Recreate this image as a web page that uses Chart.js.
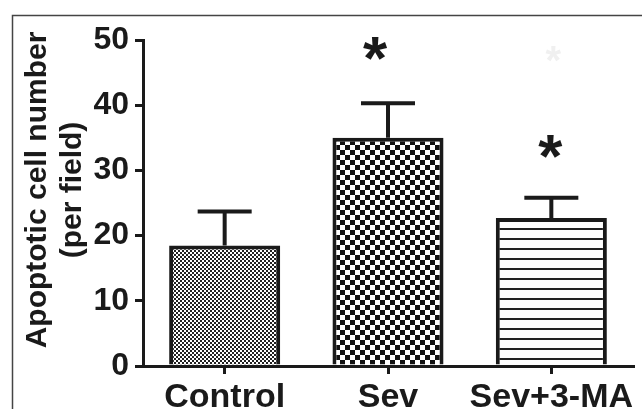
<!DOCTYPE html>
<html>
<head>
<meta charset="utf-8">
<script src="https://cdn.jsdelivr.net/npm/chart.js@4.4.0/dist/chart.umd.min.js"></script>
<style>
    html, body { margin: 0; padding: 0; background: #fff; }
    #wrap { width: 642px; height: 409px; position: relative; }
</style>
</head>
<body>
<div id="wrap"><canvas id="apoptosisChart" width="642" height="409"></canvas></div>
<script>
// data
const groups = ['Control', 'Sev', 'Sev+3-MA'];
const means = [18.5, 35.0, 22.7];
const sems = [5.2, 5.3, 3.1];
const marks = ['', '*', '*'];
const markLevels = [0, 48.9, 33.9];
const yTicks = [0, 10, 20, 30, 40, 50];

const FONT = '"Liberation Sans", Arial, sans-serif';

// fill patterns
function checker(cell, dark) {
    const c = document.createElement('canvas');
    c.width = cell * 2;
    c.height = cell * 2;
    const g = c.getContext('2d');
    g.fillStyle = '#fff';
    g.fillRect(0, 0, c.width, c.height);
    g.fillStyle = dark;
    g.fillRect(0, 0, cell, cell);
    g.fillRect(cell, cell, cell, cell);
    return g.createPattern(c, 'repeat');
}
function stripes(gap, lw) {
    const c = document.createElement('canvas');
    c.width = 8;
    c.height = gap;
    const g = c.getContext('2d');
    g.fillStyle = '#fff';
    g.fillRect(0, 0, c.width, c.height);
    g.fillStyle = '#222';
    g.fillRect(0, gap - lw, c.width, lw);
    return g.createPattern(c, 'repeat');
}
const fills = [checker(2, '#222'), checker(5, '#111'), stripes(10, 2)];

// frame, y title, error bars and asterisks
const extras = {
    id: 'extras',
    beforeDraw(chart) {
        const ctx = chart.ctx;
        ctx.save();
        ctx.fillStyle = '#fff';
        ctx.fillRect(0, 0, chart.width, chart.height);
        ctx.strokeStyle = '#444';
        ctx.lineWidth = 1.5;
        ctx.beginPath();
        ctx.moveTo(12.5, chart.height);
        ctx.lineTo(12.5, 15.5);
        ctx.lineTo(chart.width, 15.5);
        ctx.stroke();

        // y axis title, two lines
        ctx.translate(0, 190);
        ctx.rotate(-Math.PI / 2);
        ctx.fillStyle = '#1a1a1a';
        ctx.font = 'bold 30px ' + FONT;
        ctx.textAlign = 'center';
        ctx.textBaseline = 'middle';
        ctx.fillText('Apoptotic cell number', 0, 38);
        ctx.fillText('(per field)', 0, 73);
        ctx.restore();
    },
    afterDatasetsDraw(chart) {
        const ctx = chart.ctx;
        const x = chart.scales.x;
        const y = chart.scales.y;
        ctx.save();
        ctx.strokeStyle = '#1a1a1a';
        ctx.lineWidth = 4;
        means.forEach((m, i) => {
            const cx = x.getPixelForValue(i);
            const top = y.getPixelForValue(m + sems[i]);
            const base = y.getPixelForValue(m);
            ctx.beginPath();
            ctx.moveTo(cx, base);
            ctx.lineTo(cx, top);
            ctx.moveTo(cx - 27, top);
            ctx.lineTo(cx + 27, top);
            ctx.stroke();
        });

        ctx.fillStyle = '#1a1a1a';
        ctx.font = 'bold 62px ' + FONT;
        ctx.textAlign = 'center';
        ctx.textBaseline = 'alphabetic';
        const starDx = [0, -13, -1];
        marks.forEach((s, i) => {
            if (!s) return;
            const cx = x.getPixelForValue(i) + starDx[i];
            const cy = y.getPixelForValue(markLevels[i]);
            ctx.fillText(s, cx, cy + 32);
        });
        // faint ghost asterisk in the scan
        ctx.fillStyle = '#f0f0f0';
        ctx.font = 'bold 40px ' + FONT;
        ctx.fillText('*', x.getPixelForValue(2) + 2, 74);
        ctx.restore();
    }
};

const chartData = {
    labels: groups,
    datasets: [{
        data: means,
        backgroundColor: fills,
        borderColor: '#1a1a1a',
        borderWidth: 4,
        borderSkipped: 'bottom',
        barPercentage: 0.68,
        categoryPercentage: 1.0
    }]
};

const chartConfig = {
    type: 'bar',
    data: chartData,
    options: {
        responsive: false,
        animation: false,
        devicePixelRatio: 1,
        layout: {
            padding: { top: 40, right: 9, left: 0, bottom: 0 }
        },
        plugins: {
            legend: { display: false },
            tooltip: { enabled: false }
        },
        scales: {
            x: {
                afterFit: function (scale) { scale.height = 43; },
                grid: {
                    offset: false,
                    drawOnChartArea: false,
                    drawTicks: true,
                    tickLength: 8,
                    lineWidth: 3,
                    color: '#1a1a1a'
                },
                border: { color: '#1a1a1a', width: 3 },
                ticks: {
                    color: '#1a1a1a',
                    padding: 3,
                    maxRotation: 0,
                    minRotation: 0,
                    autoSkip: false,
                    font: { family: FONT, size: 34, weight: 'bold' }
                }
            },
            y: {
                min: 0,
                max: 50,
                afterFit: function (scale) { scale.width = 143; },
                afterBuildTicks: function (scale) {
                    scale.ticks = yTicks.map(v => ({ value: v }));
                },
                grid: {
                    drawOnChartArea: false,
                    drawTicks: true,
                    tickLength: 8,
                    lineWidth: 3,
                    color: '#1a1a1a'
                },
                border: { color: '#1a1a1a', width: 3 },
                ticks: {
                    color: '#1a1a1a',
                    padding: 6,
                    font: { family: FONT, size: 32, weight: 'bold' }
                }
            }
        }
    },
    plugins: [extras]
};

const apoptosisChart = new Chart(
    document.getElementById('apoptosisChart'),
    chartConfig
);
</script>
</body>
</html>
